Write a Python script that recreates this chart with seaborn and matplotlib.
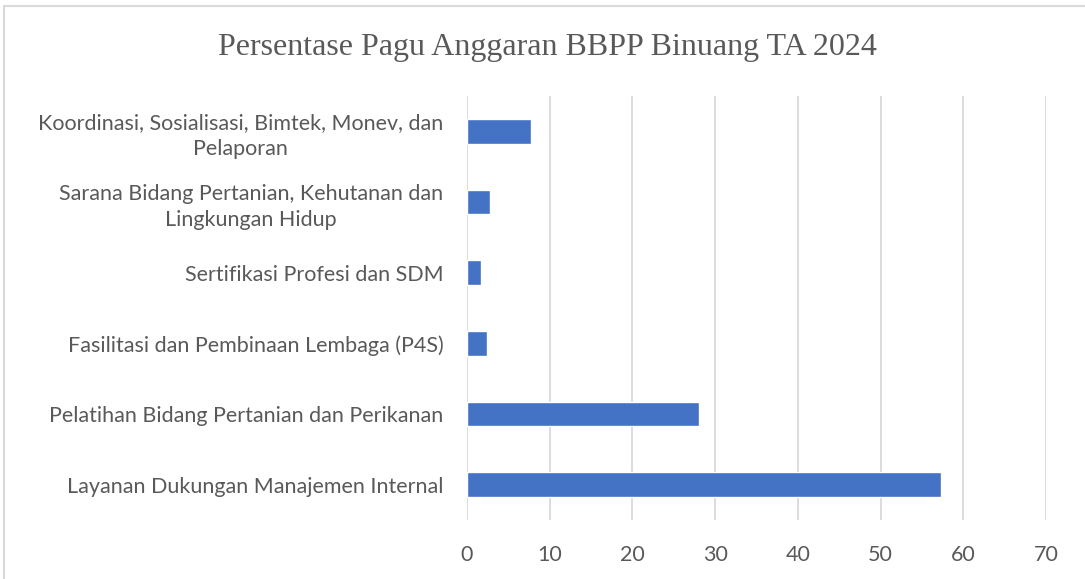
import matplotlib.pyplot as plt
import matplotlib.patches as mpatches
import seaborn as sns
import pandas as pd

# Data (percent of budget ceiling)
categories = [
    'Koordinasi, Sosialisasi, Bimtek, Monev, dan\nPelaporan',
    'Sarana Bidang Pertanian, Kehutanan dan\nLingkungan Hidup',
    'Sertifikasi Profesi dan SDM',
    'Fasilitasi dan Pembinaan Lembaga (P4S)',
    'Pelatihan Bidang Pertanian dan Perikanan',
    'Layanan Dukungan Manajemen Internal',
]
values = [7.7, 2.8, 1.7, 2.4, 28.0, 57.3]
xticks = [0, 10, 20, 30, 40, 50, 60, 70]

df = pd.DataFrame({'kategori': categories, 'persen': values})

sns.set_style('white')
plt.rcParams['font.family'] = ['Lato', 'DejaVu Sans']

textColor = '#595959'
gridColor = '#d9d9d9'

fig = plt.figure(figsize=(10.85, 5.79), dpi=100)
ax = fig.add_axes([0.4304, 0.1019, 0.5336, 0.7323])

sns.barplot(data=df, x='persen', y='kategori', color='#4472C4',
            width=0.35, saturation=1, ax=ax, zorder=3)

ax.set_xlim(0, 70)
ax.set_xticks(xticks)
ax.xaxis.grid(True, color=gridColor, linewidth=1.3, zorder=0)
ax.set_axisbelow(True)
for s in ax.spines.values():
    s.set_visible(False)

ax.set_xlabel('')
ax.set_ylabel('')
ax.tick_params(axis='both', length=0, labelsize=15.5, labelcolor=textColor)
ax.tick_params(axis='x', pad=18)
ax.tick_params(axis='y', pad=17)
for lbl in ax.get_yticklabels():
    lbl.set_multialignment('center')
    lbl.set_linespacing(1.35)

fig.text(0.505, 0.918, 'Persentase Pagu Anggaran BBPP Binuang TA 2024',
         ha='center', va='center', fontsize=23, color=textColor,
         family='Liberation Serif')

# light frame around the chart area
fig.patches.append(mpatches.Rectangle((0.004, -0.01), 1.5, 1.0, transform=fig.transFigure,
                                      fill=False, edgecolor=gridColor, linewidth=1.5))

fig.savefig('out.png', dpi=100)
